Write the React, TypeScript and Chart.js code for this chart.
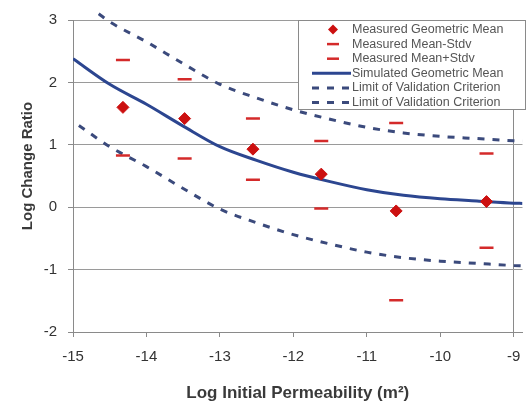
import React, { useEffect, useRef } from "react";
import { Chart, registerables } from "chart.js";

Chart.register(...registerables);

// ---- data ----
const MEASURED_X = [-14.32, -13.48, -12.55, -11.62, -10.6, -9.37];
const GEO_MEAN = [1.6, 1.42, 0.93, 0.53, -0.06, 0.09];
const MEAN_MINUS_STDV = [0.83, 0.78, 0.44, -0.02, -1.49, -0.65];
const MEAN_PLUS_STDV = [2.36, 2.05, 1.42, 1.06, 1.35, 0.86];

const SIM_X = [-15, -14.5, -14, -13.5, -13, -12.5, -12, -11.5, -11, -10.5, -10, -9.5, -9, -8.88];
const SIM_Y = [2.38, 1.97, 1.65, 1.3, 0.97, 0.75, 0.56, 0.41, 0.28, 0.19, 0.135, 0.1, 0.065, 0.06];

const UPPER_X = [-14.65, -14.5, -14, -13.5, -13, -12.5, -12, -11.5, -11, -10.5, -10, -9.5, -9, -8.88];
const UPPER_Y = [3.1, 2.97, 2.65, 2.3, 1.97, 1.75, 1.56, 1.41, 1.28, 1.19, 1.135, 1.1, 1.065, 1.06];

const LOWER_X = [-14.92, -14.5, -14, -13.5, -13, -12.5, -12, -11.5, -11, -10.5, -10, -9.5, -9, -8.88];
const LOWER_Y = [1.31, 0.97, 0.65, 0.3, -0.03, -0.25, -0.44, -0.59, -0.72, -0.81, -0.865, -0.9, -0.935, -0.94];

const X_TICKS = [-15, -14, -13, -12, -11, -10, -9];
const Y_TICKS = [-2, -1, 0, 1, 2, 3];

const LABELS = [
  "Measured Geometric Mean",
  "Measured Mean-Stdv",
  "Measured Mean+Stdv",
  "Simulated Geometric Mean",
  "Limit of Validation Criterion",
  "Limit of Validation Criterion",
];

const X_TITLE = "Log Initial Permeability (m²)";
const Y_TITLE = "Log Change Ratio";

const RED = "#cc1010";
const DASH_RED = "#d42a2a";
const SIM_BLUE = "#2c4690";
const LIMIT_BLUE = "#3b4a7c";
const FONT = "'Liberation Sans', Arial, Helvetica, sans-serif";

const pts = (xs: number[], ys: number[]) => xs.map((x, i) => ({ x, y: ys[i] }));

const yTitlePlugin = {
  id: "yTitle",
  afterDraw(chart: any) {
    const ctx = chart.ctx as CanvasRenderingContext2D;
    const area = chart.chartArea;
    ctx.save();
    ctx.translate(28, (area.top + area.bottom) / 2 - 10);
    ctx.rotate(-Math.PI / 2);
    ctx.fillStyle = "#3a3a3a";
    ctx.font = `bold 15px ${FONT}`;
    ctx.textAlign = "center";
    ctx.textBaseline = "middle";
    ctx.fillText(Y_TITLE, 0, 0);
    ctx.restore();
  },
};

const boxLegend = {
  id: "boxLegend",
  afterDraw(chart: any) {
    const ctx = chart.ctx as CanvasRenderingContext2D;
    const area = chart.chartArea;
    const x0 = area.left + 225;
    const y0 = area.top;
    const w = 228;
    const h = 90;
    ctx.save();
    ctx.fillStyle = "#ffffff";
    ctx.fillRect(x0, y0, w, h);
    ctx.strokeStyle = "#8a8a8a";
    ctx.lineWidth = 1;
    ctx.strokeRect(x0 + 0.5, y0 + 0.5, w - 1, h - 1);
    const mx = x0 + 35;
    const tx = x0 + 54;
    chart.data.datasets.forEach((ds: any, i: number) => {
      const y = y0 + 9.5 + i * 14.6;
      ctx.save();
      if (ds.pointStyle === "rectRot") {
        ctx.fillStyle = RED;
        ctx.beginPath();
        const r = 5;
        ctx.moveTo(mx, y - r);
        ctx.lineTo(mx + r, y);
        ctx.lineTo(mx, y + r);
        ctx.lineTo(mx - r, y);
        ctx.closePath();
        ctx.fill();
      } else if (ds.pointStyle === "line") {
        ctx.strokeStyle = DASH_RED;
        ctx.lineWidth = 2.5;
        ctx.beginPath();
        ctx.moveTo(mx - 6, y);
        ctx.lineTo(mx + 6, y);
        ctx.stroke();
      } else {
        ctx.strokeStyle = ds.borderColor;
        ctx.lineWidth = 3;
        if (ds.borderDash && ds.borderDash.length) ctx.setLineDash([7, 8]);
        ctx.beginPath();
        ctx.moveTo(x0 + 14, y);
        ctx.lineTo(tx - 1, y);
        ctx.stroke();
      }
      ctx.restore();
      ctx.fillStyle = "#555555";
      ctx.font = `12.5px ${FONT}`;
      ctx.textBaseline = "middle";
      ctx.textAlign = "left";
      ctx.fillText(ds.label, tx, y);
    });
    ctx.restore();
  },
};

export default function App() {
  const ref = useRef<HTMLCanvasElement | null>(null);

  useEffect(() => {
    document.body.style.margin = "0";
    const canvas = ref.current;
    if (!canvas) return;
    const lineClip = { left: 0, top: 10, right: 0, bottom: 0 };
    const chart = new Chart(canvas, {
      type: "scatter",
      data: {
        datasets: [
          {
            label: LABELS[0],
            data: pts(MEASURED_X, GEO_MEAN),
            showLine: false,
            pointStyle: "rectRot",
            pointRadius: 6,
            backgroundColor: RED,
            borderColor: RED,
            borderWidth: 1,
          },
          {
            label: LABELS[1],
            data: pts(MEASURED_X, MEAN_MINUS_STDV),
            showLine: false,
            pointStyle: "line",
            pointRadius: 7,
            borderColor: DASH_RED,
            backgroundColor: DASH_RED,
            pointBorderWidth: 2.5,
          },
          {
            label: LABELS[2],
            data: pts(MEASURED_X, MEAN_PLUS_STDV),
            showLine: false,
            pointStyle: "line",
            pointRadius: 7,
            borderColor: DASH_RED,
            backgroundColor: DASH_RED,
            pointBorderWidth: 2.5,
          },
          {
            label: LABELS[3],
            data: pts(SIM_X, SIM_Y),
            showLine: true,
            borderColor: SIM_BLUE,
            borderWidth: 3,
            pointRadius: 0,
            cubicInterpolationMode: "monotone",
            clip: lineClip,
          },
          {
            label: LABELS[4],
            data: pts(UPPER_X, UPPER_Y),
            showLine: true,
            borderColor: LIMIT_BLUE,
            borderWidth: 3,
            borderDash: [7, 8],
            pointRadius: 0,
            cubicInterpolationMode: "monotone",
            clip: lineClip,
          },
          {
            label: LABELS[5],
            data: pts(LOWER_X, LOWER_Y),
            showLine: true,
            borderColor: LIMIT_BLUE,
            borderWidth: 3,
            borderDash: [7, 8],
            pointRadius: 0,
            cubicInterpolationMode: "monotone",
            clip: lineClip,
          },
        ],
      } as any,
      options: {
        responsive: false,
        animation: false,
        layout: { padding: { top: 20, left: 0, right: 0, bottom: 0 } },
        plugins: { legend: { display: false }, tooltip: { enabled: false } },
        scales: {
          x: {
            type: "linear",
            min: -15,
            max: -8.88,
            afterBuildTicks: (scale: any) => {
              scale.ticks = X_TICKS.map((v) => ({ value: v }));
            },
            afterFit: (scale: any) => {
              scale.height = 70;
            },
            grid: {
              color: (c: any) => (c.tick && c.tick.value === -9 ? "#8a8a8a" : "rgba(0,0,0,0)"),
              tickColor: "#8a8a8a",
              tickLength: 5,
            },
            border: { display: true, color: "#8a8a8a" },
            ticks: {
              color: "#333333",
              font: { family: FONT, size: 15 },
              padding: 11,
              maxRotation: 0,
              autoSkip: false,
            },
            title: {
              display: true,
              text: X_TITLE,
              color: "#3a3a3a",
              font: { family: FONT, size: 17, weight: "bold" },
              padding: { top: 0, bottom: -2 },
            },
          },
          y: {
            type: "linear",
            min: -2,
            max: 3,
            afterBuildTicks: (scale: any) => {
              scale.ticks = Y_TICKS.map((v) => ({ value: v }));
            },
            afterFit: (scale: any) => {
              scale.width = 73;
            },
            grid: { color: "#9a9a9a", tickColor: "#8a8a8a", tickLength: 5 },
            border: { display: true, color: "#8a8a8a" },
            ticks: {
              color: "#333333",
              font: { family: FONT, size: 15 },
              padding: 11,
            },
            title: { display: false },
          },
        },
      } as any,
      plugins: [boxLegend, yTitlePlugin],
    });
    return () => chart.destroy();
  }, []);

  return (
    <div style={{ width: 532, height: 402 }}>
      <canvas ref={ref} width={532} height={402} style={{ display: "block" }} />
    </div>
  );
}
